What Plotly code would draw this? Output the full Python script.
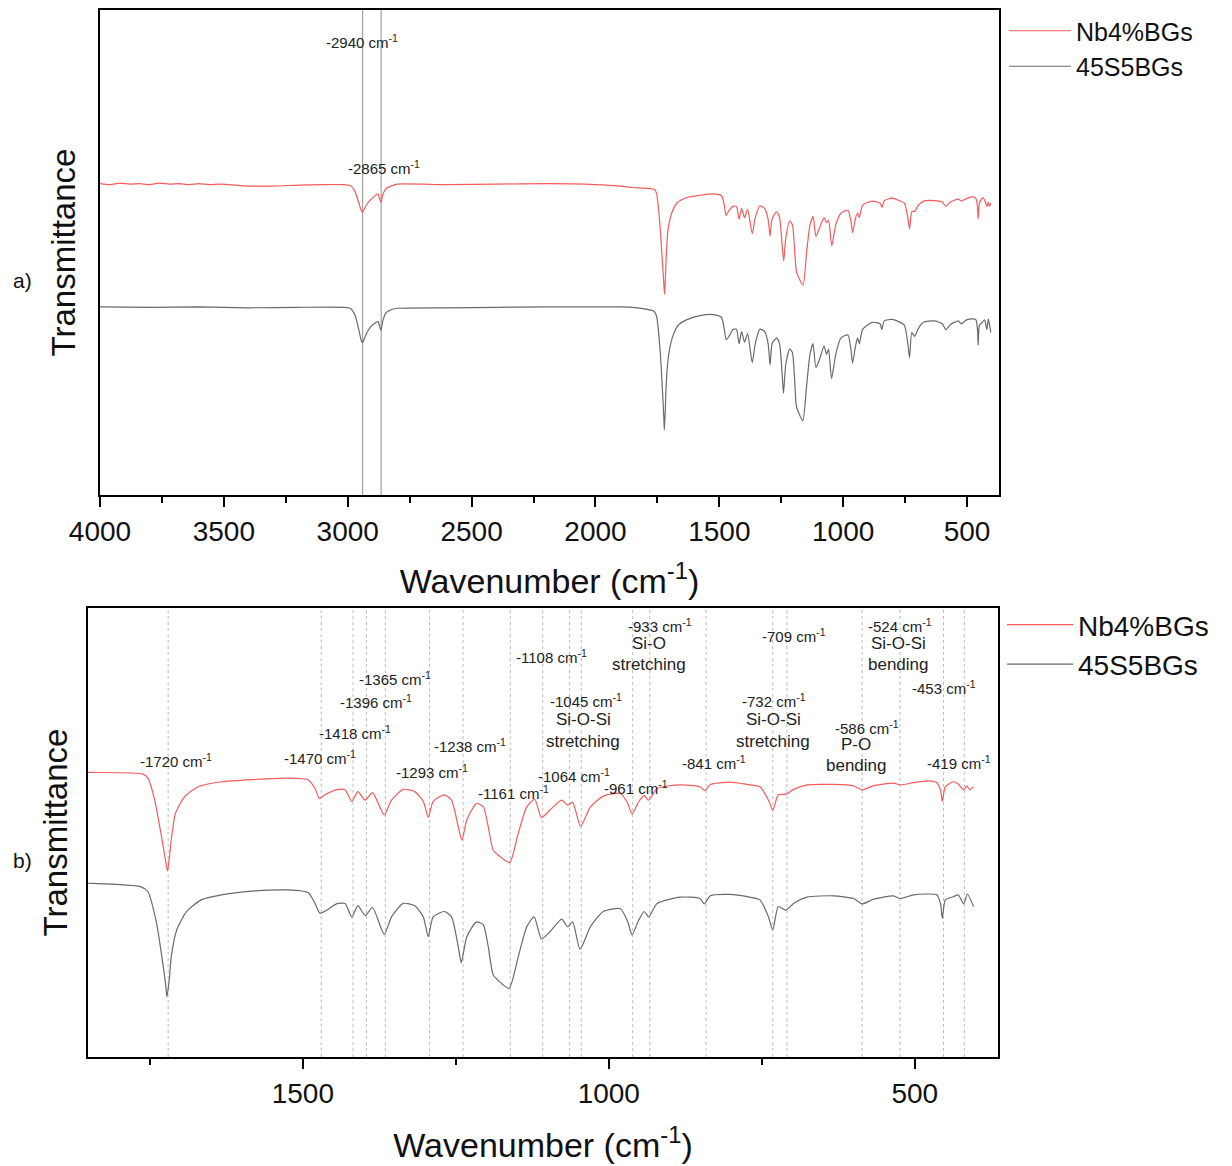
import plotly.graph_objects as go

# ---------------- data ----------------
wn_nb = [4000, 3960, 3920, 3880, 3840, 3800, 3760, 3720, 3680, 3640, 3600, 3560, 3520, 3480,
         3400, 3300, 3200, 3100, 3020, 2990, 2970, 2955, 2945, 2940, 2925, 2905, 2885, 2878,
         2872, 2866, 2858, 2845, 2820, 2800, 2600, 2400, 2200, 2000, 1900, 1850,
         1761, 1753, 1742, 1728, 1724, 1721, 1718, 1715, 1708, 1693, 1671, 1633, 1578, 1524,
         1491, 1480, 1473, 1464, 1445, 1431, 1420, 1410, 1398, 1386, 1367, 1355, 1336, 1317,
         1303, 1295, 1287, 1269, 1257, 1246, 1240, 1232, 1216, 1205, 1197, 1189, 1181, 1162,
         1148, 1134, 1121, 1110, 1096, 1077, 1067, 1059, 1046, 1030, 1009, 981, 969, 962,
         951, 942, 935, 921, 883, 851, 843, 834, 802, 774, 753, 739, 732, 723, 711, 698,
         676, 633, 600, 586, 568, 535, 524, 502, 478, 464, 458, 455, 450, 437, 429, 420,
         415, 410, 404]
t_nb = [64.2, 64.0, 64.3, 64.1, 64.2, 64.0, 64.3, 64.1, 64.2, 64.0, 64.2, 64.0, 64.1, 64.0,
        63.7, 63.7, 63.9, 64.0, 64.0, 63.8, 62.5, 60.2, 58.6, 58.3, 59.8, 61.0, 61.9, 62.1,
        61.2, 60.3, 62.0, 63.2, 63.8, 64.1, 64.0, 64.1, 64.2, 64.0, 63.7, 63.4,
        63.0, 62.1, 57.2, 46.8, 43.5, 41.4, 44.5, 48.3, 54.3, 58.0, 60.2, 61.3, 61.8, 62.1,
        61.7, 59.8, 57.6, 58.4, 59.5, 59.5, 56.9, 59.1, 57.2, 58.9, 53.9, 57.2, 59.6, 59.1,
        56.9, 53.4, 56.9, 58.4, 57.2, 51.3, 48.3, 52.8, 56.5, 55.7, 51.3, 46.1, 45.0, 43.3,
        49.8, 55.7, 57.4, 53.3, 55.0, 57.2, 56.1, 56.7, 51.4, 55.7, 58.1, 58.7, 56.5, 54.1,
        56.9, 58.2, 57.2, 59.8, 60.6, 60.2, 59.3, 60.7, 61.2, 60.7, 60.2, 57.2, 54.9, 58.4, 58.5, 59.6,
        60.6, 60.7, 60.4, 59.5, 60.4, 61.0, 60.6, 61.1, 61.5, 61.1, 59.5, 56.9, 60.2, 61.3, 60.8, 59.5,
        60.4, 59.5, 60.2]

wn_45 = [4000, 3800, 3600, 3400, 3200, 3020, 2990, 2970, 2955, 2945, 2940, 2925, 2905, 2885,
         2878, 2872, 2866, 2858, 2845, 2820, 2800, 2600, 2400, 2200, 2000, 1900, 1850,
         1764, 1753, 1739, 1728, 1724, 1722, 1718, 1715, 1706, 1690, 1666, 1633, 1578, 1524,
         1491, 1480, 1472, 1461, 1445, 1431, 1420, 1410, 1398, 1386, 1367, 1355, 1336, 1317,
         1303, 1295, 1287, 1269, 1257, 1246, 1241, 1232, 1216, 1205, 1197, 1189, 1181, 1163,
         1148, 1134, 1122, 1110, 1096, 1077, 1067, 1059, 1047, 1030, 1009, 981, 969, 962,
         951, 942, 935, 921, 883, 851, 844, 834, 802, 774, 753, 739, 732, 723, 711, 698,
         676, 633, 600, 586, 568, 535, 524, 502, 478, 464, 458, 455, 450, 437, 429, 420,
         414, 404]
t_45 = [38.8, 38.7, 38.8, 38.6, 38.7, 38.7, 38.5, 37.0, 34.0, 31.8, 31.4, 33.2, 34.8, 35.6,
        35.8, 34.9, 34.0, 36.0, 37.6, 38.3, 38.5, 38.6, 38.7, 38.8, 38.8, 38.8, 38.7,
        37.9, 36.8, 29.8, 20.1, 16.0, 13.4, 17.5, 22.3, 28.3, 32.4, 35.0, 36.1, 37.0, 37.2,
        36.6, 34.2, 32.0, 32.7, 34.1, 34.2, 31.2, 33.7, 31.5, 33.3, 27.3, 31.2, 34.2, 33.7,
        31.2, 26.8, 31.2, 32.4, 31.2, 24.6, 21.0, 26.8, 30.1, 29.4, 24.6, 18.3, 17.1, 15.3,
        22.3, 29.0, 31.2, 26.3, 27.9, 30.7, 29.0, 30.1, 24.0, 29.0, 32.4, 33.0, 30.1, 27.2,
        30.5, 32.4, 31.2, 34.2, 35.6, 35.3, 34.1, 35.9, 36.2, 35.7, 35.0, 31.2, 28.3, 33.5, 32.7, 34.2,
        35.6, 35.9, 35.3, 34.1, 35.1, 35.9, 35.3, 36.1, 36.3, 36.1, 34.2, 30.9, 35.0, 35.7, 36.1, 34.1,
        36.3, 33.5]

series_names = ["Nb4%BGs", "45S5BGs"]
top_peaks = [2940, 2865]
bottom_peaks = [1720, 1470, 1418, 1396, 1365, 1293, 1238, 1161, 1108, 1064, 1045,
                961, 933, 841, 732, 709, 586, 524, 453, 419]
top_ticks = [4000, 3500, 3000, 2500, 2000, 1500, 1000, 500]
bottom_ticks = [1500, 1000, 500]

# label placement (layout, not data)
top_label_pos = {2940: (2942, 93.6), 2865: (2853, 67.6)}
bottom_label_pos = {1720: (1707, 66.1), 1470: (1472, 66.8), 1418: (1414, 72.2),
                    1396: (1380, 79.1), 1365: (1349, 84.4), 1293: (1289, 63.5),
                    1238: (1227, 69.3), 1161: (1156, 58.8), 1108: (1093, 89.1),
                    1064: (1057, 62.6), 1045: (1037, 79.5), 961: (955, 60.1),
                    933: (916, 96.0), 841: (828, 65.7), 732: (730, 79.5),
                    709: (697, 93.8), 586: (578, 73.4), 524: (524, 96.0),
                    453: (452, 82.2), 419: (428, 65.5)}
descriptors = [("Si-O-Si", 1042, 75.1), ("stretching", 1042, 70.2),
               ("Si-O", 934, 92.2), ("stretching", 934, 87.5),
               ("Si-O-Si", 731, 75.1), ("stretching", 731, 70.2),
               ("P-O", 596, 69.6), ("bending", 596, 65.0),
               ("Si-O-Si", 527, 92.2), ("bending", 527, 87.5)]

W, H = 1232, 1166
OFF = 8  # page offset of the plot div in the browser
FONT = "Arial, Liberation Sans, sans-serif"
RED = "#f25c5c"
GRAY = "#6a6a6a"


def px(x):
    return (x - OFF) / W


def py(y):
    return 1 - (y - OFF) / H


fig = go.Figure()
for (wn, t, name, col) in [(wn_nb, t_nb, series_names[0], RED), (wn_45, t_45, series_names[1], GRAY)]:
    for xa, ya, lg in [("x", "y", "legend"), ("x2", "y2", "legend2")]:
        fig.add_trace(go.Scatter(x=wn, y=t, mode="lines", name=name,
                                 line=dict(color=col, width=1.2, shape="spline", smoothing=0.6),
                                 xaxis=xa, yaxis=ya, legend=lg))

shapes = []
for p in top_peaks:
    shapes.append(dict(type="line", xref="x", yref="y domain", x0=p, x1=p, y0=0, y1=1,
                       line=dict(color="#a0a0a0", width=1.2), layer="below"))
for p in bottom_peaks:
    shapes.append(dict(type="line", xref="x2", yref="y2 domain", x0=p, x1=p, y0=0, y1=1,
                       line=dict(color="#bdbdbd", width=1, dash="dot"), layer="below"))

ann = []
for p in top_peaks:
    x, y = top_label_pos[p]
    ann.append(dict(x=x, y=y, xref="x", yref="y", text=f"-{p} cm<sup>-1</sup>", showarrow=False,
                    font=dict(size=15, color="#222", family=FONT)))
for p in bottom_peaks:
    x, y = bottom_label_pos[p]
    ann.append(dict(x=x, y=y, xref="x2", yref="y2", text=f"-{p} cm<sup>-1</sup>", showarrow=False,
                    font=dict(size=15, color="#222", family=FONT)))
for (txt, x, y) in descriptors:
    ann.append(dict(x=x, y=y, xref="x2", yref="y2", text=txt, showarrow=False,
                    font=dict(size=17, color="#222", family=FONT)))
for (txt, x, y) in [("a)", 22, 280), ("b)", 22, 860)]:
    ann.append(dict(x=px(x), y=py(y), xref="paper", yref="paper", text=txt, showarrow=False,
                    xanchor="center", yanchor="middle",
                    font=dict(size=21, color="#111", family=FONT)))

axis_common = dict(showline=True, linecolor="black", linewidth=2, mirror=True, showgrid=False,
                   zeroline=False, automargin=False)
tickfont = dict(size=28, family=FONT, color="#111")
xtitle_font = dict(size=34, family=FONT, color="#111")
ytitle_font = dict(size=33, family=FONT, color="#111")

fig.update_layout(
    width=W, height=H, margin=dict(l=0, r=0, t=0, b=0, autoexpand=False),
    plot_bgcolor="white", paper_bgcolor="white",
    font=dict(family=FONT, color="#111"),
    xaxis=dict(domain=[px(100), px(999)], range=[4000, 371], anchor="y",
               tickvals=top_ticks, ticks="outside", ticklen=10, tickwidth=2, tickcolor="black",
               minor=dict(ticks="outside", ticklen=6, tickwidth=2, dtick=250, tick0=0, tickcolor="black"),
               tickfont=tickfont,
               title=dict(text="Wavenumber (cm<sup>-1</sup>)", font=xtitle_font, standoff=24),
               **axis_common),
    yaxis=dict(domain=[py(495), py(10)], range=[0, 100], anchor="x", showticklabels=False, ticks="",
               title=dict(text="Transmittance", font=ytitle_font, standoff=12),
               **axis_common),
    xaxis2=dict(domain=[px(88), px(998)], range=[1851, 364], anchor="y2",
                tickvals=bottom_ticks, ticks="outside", ticklen=10, tickwidth=2, tickcolor="black",
                minor=dict(ticks="outside", ticklen=6, tickwidth=2, dtick=250, tick0=0, tickcolor="black"),
                tickfont=tickfont,
                title=dict(text="Wavenumber (cm<sup>-1</sup>)", font=xtitle_font, standoff=26),
                **axis_common),
    yaxis2=dict(domain=[py(1057), py(608)], range=[0, 100], anchor="x2", showticklabels=False, ticks="",
                title=dict(text="Transmittance", font=ytitle_font, standoff=8),
                **axis_common),
    legend=dict(x=px(1004), y=py(8), xanchor="left", yanchor="top", itemwidth=62,
                font=dict(size=25, family=FONT, color="#111"), bgcolor="rgba(0,0,0,0)"),
    legend2=dict(x=px(1002), y=py(600), xanchor="left", yanchor="top", itemwidth=66,
                 font=dict(size=28, family=FONT, color="#111"), bgcolor="rgba(0,0,0,0)"),
    shapes=shapes,
    annotations=ann,
)

fig.write_html("out.html")
